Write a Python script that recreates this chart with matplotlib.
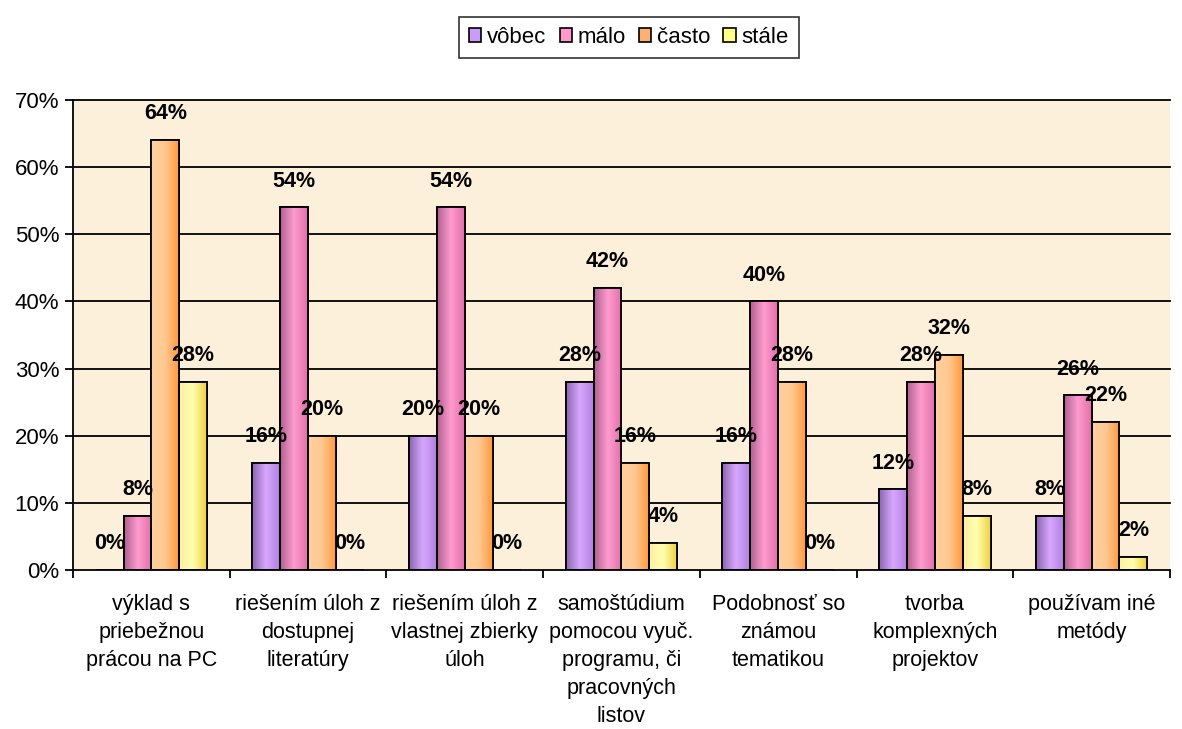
import numpy as np
import matplotlib.pyplot as plt
from matplotlib.patches import Patch
from matplotlib.colors import LinearSegmentedColormap

# data
categories = [
    "výklad s\npriebežnou\nprácou na PC",
    "riešením úloh z\ndostupnej\nliteratúry",
    "riešením úloh z\nvlastnej zbierky\núloh",
    "samoštúdium\npomocou vyuč.\nprogramu, či\npracovných\nlistov",
    "Podobnosť so\nznámou\ntematikou",
    "tvorba\nkomplexných\nprojektov",
    "používam iné\nmetódy",
]
series_names = ["vôbec", "málo", "často", "stále"]
vobec = [0, 16, 20, 28, 16, 12, 8]
malo = [8, 54, 54, 42, 40, 28, 26]
casto = [64, 20, 20, 16, 28, 32, 22]
stale = [28, 0, 0, 4, 0, 8, 2]
series = [vobec, malo, casto, stale]

# colours: (dark edge, light centre, base)
colors = ["#CC99FF", "#FF99CC", "#FFB070", "#FFFF88"]
shades = [
    ["#8A66B0", "#D8A8FF", "#B080E0"],
    ["#B06090", "#FF9CD0", "#E070A8"],
    ["#FFD0A0", "#FFC890", "#FF9A40"],
    ["#FFF0A0", "#FFFFB0", "#F0D040"],
]

plt.rcParams['font.family'] = ['Liberation Sans', 'DejaVu Sans']

fig = plt.figure(figsize=(11.82, 7.29), dpi=100)
ax = fig.add_axes([0.0618, 0.2181, 0.928, 0.6447])
ax.set_facecolor("#FCF0DA")

x = np.arange(len(categories))
width = 0.178

# gridlines
for g in range(10, 71, 10):
    ax.axhline(g, color="black", lw=1.3, zorder=1, clip_on=False)

for i, vals in enumerate(series):
    pos = x + (i - 1.5) * width
    bars = ax.bar(pos, vals, width, color=colors[i], edgecolor="black",
                  linewidth=1.3, zorder=3)
    cmap = LinearSegmentedColormap.from_list("g%d" % i, shades[i])
    grad = np.linspace(0, 1, 64).reshape(1, -1)
    for b, v in zip(bars, vals):
        if v > 0:
            im = ax.imshow(grad, cmap=cmap, aspect="auto", zorder=3.5,
                           extent=(b.get_x(), b.get_x() + b.get_width(), 0, v),
                           interpolation="bicubic")
            im.set_clip_path(b)
            ax.bar(b.get_x() + b.get_width() / 2, v, width, fill=False,
                   edgecolor="black", linewidth=1.3, zorder=4)
        ax.annotate(f"{v}%", xy=(b.get_x() + b.get_width() / 2, v),
                    xytext=(0, 19), textcoords="offset points",
                    ha="center", va="center", fontsize=15.5, fontweight="bold",
                    fontstretch="condensed", zorder=5)

ax.set_xlim(-0.5, len(categories) - 0.5)
ax.set_ylim(0, 70)

ax.set_yticks(range(0, 71, 10))
ax.set_yticklabels([f"{t}%" for t in range(0, 71, 10)], fontsize=16)
ax.set_xticks(x)
ax.set_xticklabels(categories, fontsize=15.5, va="top", linespacing=1.45)
ax.set_xticks(np.arange(-0.5, len(categories), 1), minor=True)
ax.tick_params(axis="x", which="major", length=0, pad=17)
ax.tick_params(axis="x", which="minor", length=6, width=1.3, direction="out")
ax.tick_params(axis="y", length=6, width=1.3, direction="out", pad=4)

for s in ["top", "right"]:
    ax.spines[s].set_visible(False)
for s in ["left", "bottom"]:
    ax.spines[s].set_linewidth(1.3)
    ax.spines[s].set_zorder(6)

handles = [Patch(facecolor=c, edgecolor="black", linewidth=1.2) for c in colors]
leg = fig.legend(handles, series_names, loc="center", bbox_to_anchor=(0.532, 0.949),
                 ncol=4, fontsize=16, frameon=True, fancybox=False,
                 handlelength=0.55, handleheight=0.55, handletextpad=0.25,
                 columnspacing=0.6, borderpad=0.45)
leg.get_frame().set_edgecolor("black")
leg.get_frame().set_linewidth(1.2)

fig.savefig("out.png", dpi=100)
